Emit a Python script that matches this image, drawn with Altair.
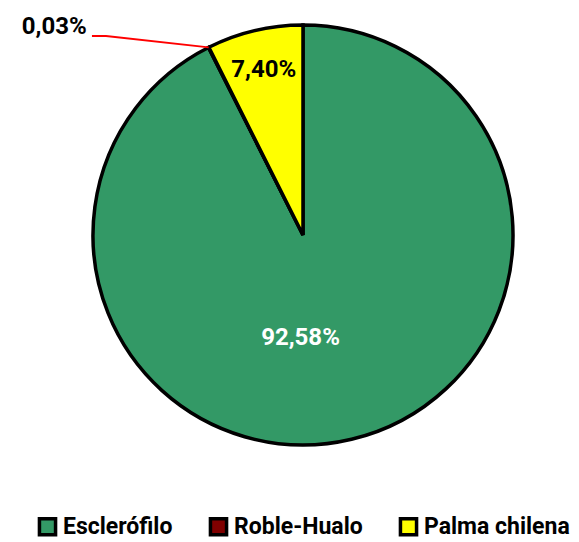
import altair as alt
import numpy as np
import pandas as pd

# ---- data ----
categories = ["Esclerófilo", "Roble-Hualo", "Palma chilena"]
values = [92.58, 0.03, 7.40]
labels = ["92,58%", "0,03%", "7,40%"]
colors = ["#339966", "#800000", "#FFFF00"]

FONT = "Roboto, 'DejaVu Sans Condensed', sans-serif"

W, H = 563, 534
R = 210  # pie radius in px
CX, CY = 295, 227  # pie centre inside the view
# x / y scales in units of pie radius, centre of pie at (0, 0)
xs = alt.Scale(domain=[-CX / R, (W - CX) / R], nice=False, zero=False)
ys = alt.Scale(domain=[-(H - CY) / R, CY / R], nice=False, zero=False)

df = pd.DataFrame({"cat": categories, "value": values, "label": labels,
                   "order": list(range(len(categories)))})
total = float(np.sum(values))
cum = np.cumsum(values)
df["mid"] = (cum - df["value"] / 2) / total * 2 * np.pi
df["x0"] = 0.0
df["y0"] = 0.0

X0 = alt.X("x0:Q", scale=xs, axis=None)
Y0 = alt.Y("y0:Q", scale=ys, axis=None)

pie = alt.Chart(df).mark_arc(radius=R, stroke="black", strokeWidth=3.5).encode(
    x=X0, y=Y0,
    theta=alt.Theta("value:Q", stack=True),
    order=alt.Order("order:Q"),
    color=alt.Color("cat:N",
                    scale=alt.Scale(domain=categories, range=colors),
                    sort=categories,
                    legend=alt.Legend(
                        title=None, orient="none", direction="horizontal",
                        legendX=28, legendY=507,
                        symbolType="square", symbolSize=260,
                        symbolStrokeColor="black", symbolStrokeWidth=3.5,
                        symbolOpacity=1,
                        labelFont=FONT, labelFontSize=23, labelFontWeight="bold",
                        labelColor="black", labelOffset=4, columnPadding=30,
                        labelLimit=300)),
)

base_txt = alt.Chart(df)

lbl_big = base_txt.transform_filter(alt.datum.cat == categories[0]).mark_text(
    font=FONT, fontSize=24, fontWeight="bold", color="white", radius=106, dx=-27
).encode(x=X0, y=Y0, theta=alt.Theta("mid:Q", scale=None), text="label:N")

lbl_yel = base_txt.transform_filter(alt.datum.cat == categories[2]).mark_text(
    font=FONT, fontSize=24, fontWeight="bold", color="black", radius=170
).encode(x=X0, y=Y0, theta=alt.Theta("mid:Q", scale=None), text="label:N")

# leader line for the tiny Roble-Hualo slice
mid_r = float(df.loc[1, "mid"])
lead = pd.DataFrame({
    "lx": [-1.005, -0.938, np.sin(mid_r)],
    "ly": [0.948, 0.948, np.cos(mid_r)],
    "k": [0, 1, 2],
})
leader = alt.Chart(lead).mark_line(color="red", strokeWidth=2).encode(
    x=alt.X("lx:Q", scale=xs, axis=None),
    y=alt.Y("ly:Q", scale=ys, axis=None),
    order="k:Q",
)

small = pd.DataFrame({"tx": [-1.03], "ty": [0.99], "label": [labels[1]]})
lbl_small = alt.Chart(small).mark_text(
    font=FONT, fontSize=24, fontWeight="bold", color="black",
    align="right", baseline="middle"
).encode(
    x=alt.X("tx:Q", scale=xs, axis=None),
    y=alt.Y("ty:Q", scale=ys, axis=None),
    text="label:N",
)

chart = alt.layer(pie, leader, lbl_big, lbl_yel, lbl_small).properties(
    width=W, height=H, padding=0, autosize=alt.AutoSizeParams(type="none"),
    background="white",
).configure_view(stroke=None)

chart.save("out.html", embed_options={"renderer": "svg", "actions": False})
